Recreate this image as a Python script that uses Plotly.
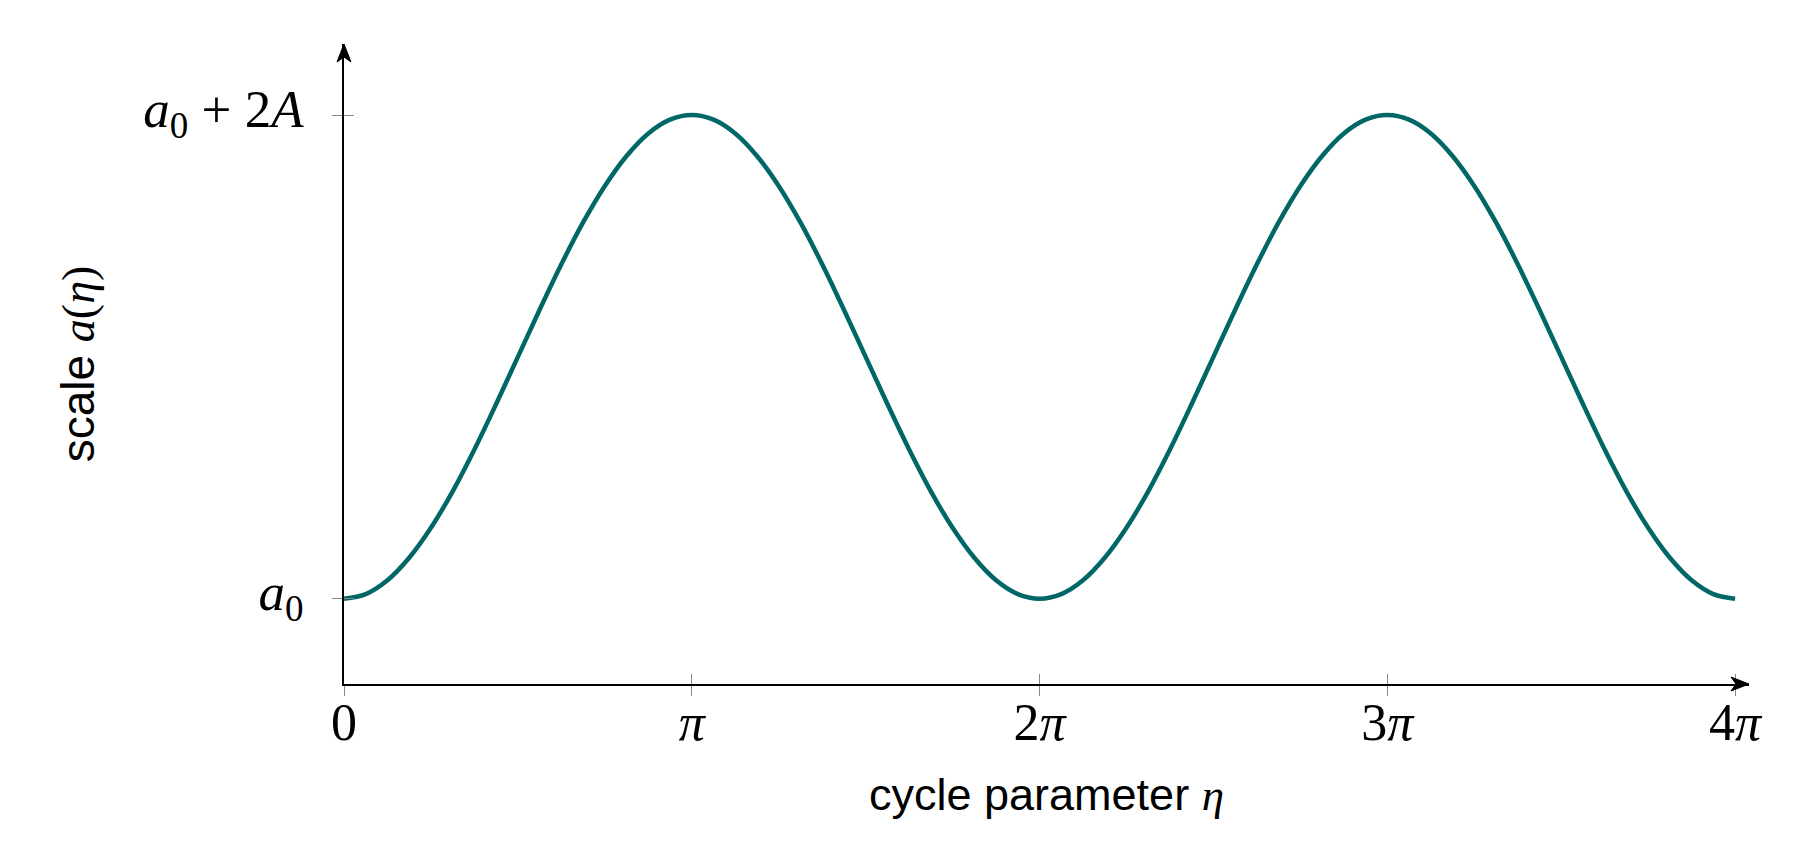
import plotly.graph_objects as go

eta = [0, 0.0625, 0.125, 0.1875, 0.25, 0.3125, 0.375, 0.4375,
       0.5, 0.5625, 0.625, 0.6875, 0.75, 0.8125, 0.875, 0.9375,
       1, 1.0625, 1.125, 1.1875, 1.25, 1.3125, 1.375, 1.4375,
       1.5, 1.5625, 1.625, 1.6875, 1.75, 1.8125, 1.875, 1.9375,
       2, 2.0625, 2.125, 2.1875, 2.25, 2.3125, 2.375, 2.4375,
       2.5, 2.5625, 2.625, 2.6875, 2.75, 2.8125, 2.875, 2.9375,
       3, 3.0625, 3.125, 3.1875, 3.25, 3.3125, 3.375, 3.4375,
       3.5, 3.5625, 3.625, 3.6875, 3.75, 3.8125, 3.875, 3.9375, 4]
scale = [0.000, 0.019, 0.076, 0.169, 0.293, 0.444, 0.617, 0.805,
         1.000, 1.195, 1.383, 1.556, 1.707, 1.831, 1.924, 1.981,
         2.000, 1.981, 1.924, 1.831, 1.707, 1.556, 1.383, 1.195,
         1.000, 0.805, 0.617, 0.444, 0.293, 0.169, 0.076, 0.019,
         0.000, 0.019, 0.076, 0.169, 0.293, 0.444, 0.617, 0.805,
         1.000, 1.195, 1.383, 1.556, 1.707, 1.831, 1.924, 1.981,
         2.000, 1.981, 1.924, 1.831, 1.707, 1.556, 1.383, 1.195,
         1.000, 0.805, 0.617, 0.444, 0.293, 0.169, 0.076, 0.019, 0.000]

x_ticks = [0, 1, 2, 3, 4]
x_labels = ['0', '<i>π</i>', '2<i>π</i>', '3<i>π</i>', '4<i>π</i>']
y_ticks = [0, 2]
y_labels = ['<i>a</i><sub>0</sub>', '<i>a</i><sub>0</sub> + 2<i>A</i>']

serif = 'Liberation Serif'
sans = 'Liberation Sans'
teal = '#006666'

x_range = [0, 4.04]
y_range = [-0.353, 2.294]

fig = go.Figure()
fig.add_trace(go.Scatter(x=eta, y=scale, mode='lines',
                         line=dict(color=teal, width=4.5, shape='spline'),
                         showlegend=False))
# invisible copy so the overlay axes (inner half of the ticks) get drawn
fig.add_trace(go.Scatter(x=eta, y=scale, mode='lines', xaxis='x2', yaxis='y2',
                         line=dict(width=0), hoverinfo='skip', showlegend=False))

tick_style = dict(ticklen=10, tickwidth=1, tickcolor='#888888')

fig.update_layout(
    width=1806, height=867,
    margin=dict(l=336, r=65, t=36, b=191),
    plot_bgcolor='white', paper_bgcolor='white',
    xaxis=dict(range=x_range, showgrid=False, zeroline=False,
               showline=True, linecolor='black', linewidth=1.6,
               tickvals=x_ticks, ticktext=x_labels, ticks='outside',
               tickfont=dict(family=serif, size=52, color='black'),
               ticklabelstandoff=-18,
               title=dict(text='cycle parameter <span style="font-family:Liberation Serif"><i>η</i></span>',
                          font=dict(family=sans, size=45, color='black'),
                          standoff=28),
               **tick_style),
    yaxis=dict(range=y_range, showgrid=False, zeroline=False,
               showline=True, linecolor='black', linewidth=1.6,
               tickvals=y_ticks, ticktext=y_labels, ticks='outside',
               tickfont=dict(family=serif, size=53, color='black'),
               ticklabelstandoff=18, ticklabelshift=-7,
               title=dict(text='scale <span style="font-family:Liberation Serif"><i>a</i>(<i>η</i>)</span>',
                          font=dict(family=sans, size=46, color='black'),
                          standoff=34),
               **tick_style),
    xaxis2=dict(range=x_range, overlaying='x', anchor='y2', side='bottom',
                showgrid=False, zeroline=False, showline=False,
                showticklabels=False, tickvals=x_ticks, ticks='inside',
                **tick_style),
    yaxis2=dict(range=y_range, overlaying='y', anchor='x2', side='left',
                showgrid=False, zeroline=False, showline=False,
                showticklabels=False, tickvals=y_ticks, ticks='inside',
                **tick_style),
)

# arrow heads at the axis ends, sized in pixels
fig.add_shape(type='path', xref='paper', yref='paper',
              xsizemode='pixel', ysizemode='pixel', xanchor=1, yanchor=0,
              path='M 0 0 L -18 -7 L -13 0 L -18 7 Z',
              fillcolor='black', line=dict(color='black', width=1))
fig.add_shape(type='path', xref='paper', yref='paper',
              xsizemode='pixel', ysizemode='pixel', xanchor=0, yanchor=1,
              path='M 0 0 L -7 -18 L 0 -13 L 7 -18 Z',
              fillcolor='black', line=dict(color='black', width=1))

fig.write_html('out.html')
